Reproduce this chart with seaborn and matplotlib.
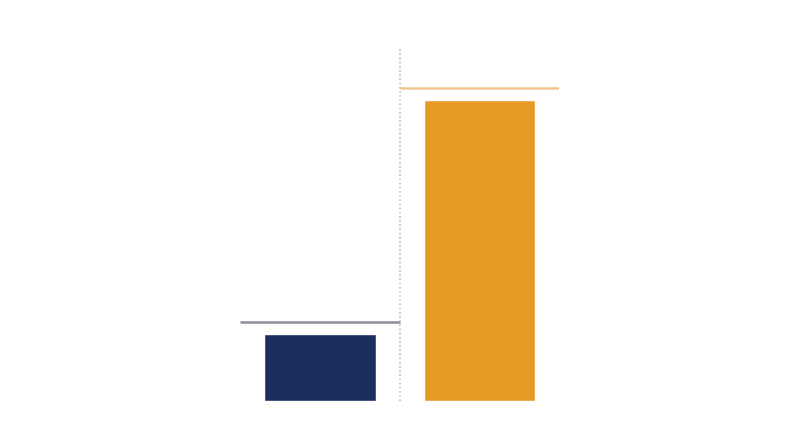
import seaborn as sns
import matplotlib.pyplot as plt
import pandas as pd

# values (axis scale 0-100)
groups = ["A", "B"]
bar_values = [19.0, 85.2]
ref_values = [22.4, 88.7]
bar_colors = ["#1b2f5e", "#e89a27"]
ref_colors = ["#8a8f9e", "#f3c68f"]

df = pd.DataFrame({"group": groups, "value": bar_values})

sns.set_style("white")
fig = plt.figure(figsize=(8, 4.47), dpi=100)
ax = fig.add_axes([0.30, 0.1029, 0.399, 0.79])

sns.barplot(data=df, x="group", y="value", hue="group", palette=bar_colors,
            width=0.7, legend=False, ax=ax, saturation=1)

# reference line above each bar
for i, (v, c) in enumerate(zip(ref_values, ref_colors)):
    ax.hlines(v, i - 0.5, i + 0.5, color=c, linewidth=1.8)

# dotted divider between the groups
ax.axvline(0.5, color="#bdbdbd", linestyle=(0, (1, 1.5)), linewidth=1.2)

ax.set_xlim(-0.5, 1.5)
ax.set_ylim(0, 100)
ax.axis("off")

plt.savefig("out.png", dpi=100)
plt.close()
